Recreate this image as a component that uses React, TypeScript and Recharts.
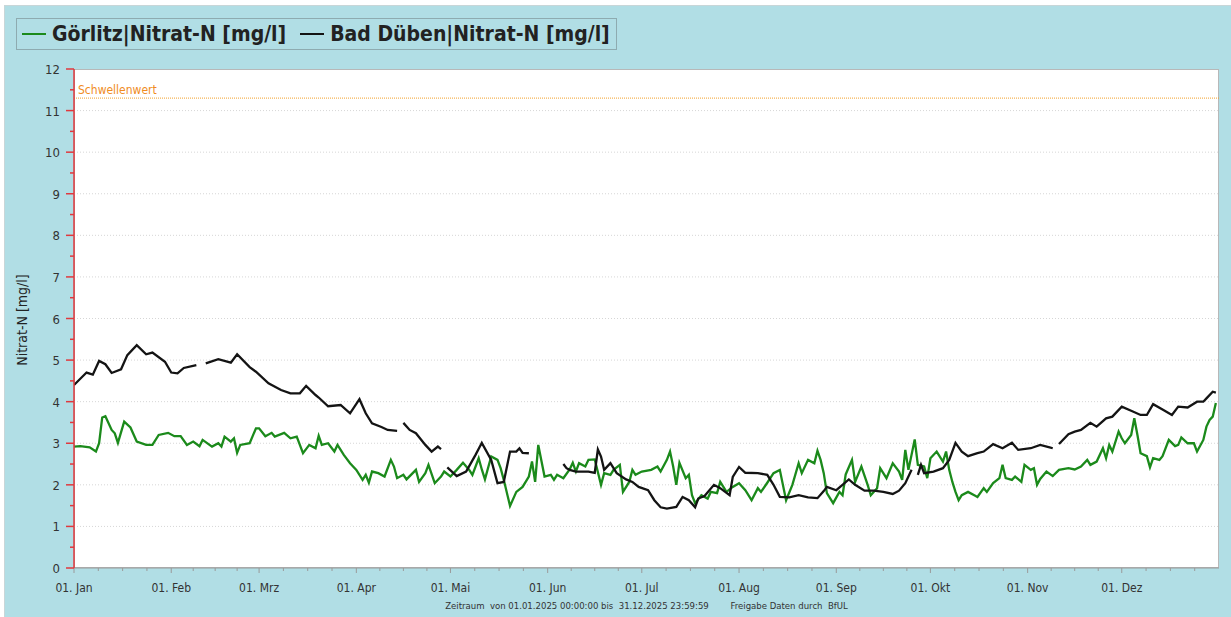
import { LineChart, Line, XAxis, YAxis, ReferenceLine } from 'recharts'

// day of year (0 = 01. Jan), value in mg/l; null = gap in the record
const goerlitz: [number, number | null][] = [
  [0, 2.92], [2, 2.93], [5, 2.9], [7, 2.8], [8, 3.0], [9, 3.62], [10, 3.65], [12, 3.32], [13, 3.24], [14, 3.01],
  [16, 3.52], [18, 3.38], [20, 3.04], [23, 2.96], [25, 2.96], [27, 3.2], [30, 3.25], [32, 3.17], [34, 3.17], [36, 2.96],
  [38, 3.04], [40, 2.93], [41, 3.08], [44, 2.92], [46, 3.0], [47, 2.92], [48, 3.16], [50, 3.04], [51, 3.12], [52, 2.77],
  [53, 2.96], [56, 3.0], [58, 3.36], [59, 3.36], [61, 3.17], [63, 3.25], [64, 3.16], [67, 3.25], [69, 3.12], [71, 3.16],
  [73, 2.76], [75, 2.96], [77, 2.88], [78, 3.18], [79, 2.96], [81, 3.0], [83, 2.8], [84, 2.96], [86, 2.72], [88, 2.52],
  [90, 2.36], [92, 2.12], [93, 2.24], [94, 2.05], [95, 2.32], [97, 2.28], [99, 2.2], [101, 2.6], [102, 2.44], [103, 2.16],
  [105, 2.24], [106, 2.13], [109, 2.36], [110, 2.07], [112, 2.28], [113, 2.48], [115, 2.04], [117, 2.2], [118, 2.32], [120, 2.2],
  [122, 2.36], [124, 2.53], [126, 2.36], [127, 2.24], [129, 2.64], [130, 2.37], [131, 2.13], [133, 2.68], [135, 2.6], [136, 2.4],
  [137, 2.12], [139, 1.49], [141, 1.83], [143, 1.95], [145, 2.2], [146, 2.56], [147, 2.07], [148, 2.96], [150, 2.2], [152, 2.24],
  [153, 2.12], [154, 2.24], [156, 2.16], [158, 2.37], [159, 2.53], [160, 2.32], [161, 2.52], [163, 2.44], [164, 2.6], [166, 2.61],
  [168, 2.0], [169, 2.28], [171, 2.24], [172, 2.36], [174, 2.48], [175, 1.83], [177, 2.07], [178, 2.36], [179, 2.24], [181, 2.32],
  [184, 2.36], [186, 2.44], [187, 2.32], [189, 2.6], [190, 2.8], [191, 2.44], [192, 2.0], [193, 2.53], [195, 2.16], [196, 2.24],
  [197, 1.75], [198, 1.56], [200, 1.75], [202, 1.67], [203, 1.83], [205, 1.8], [206, 2.07], [208, 1.83], [210, 1.95], [212, 2.04],
  [214, 1.87], [216, 1.63], [218, 1.92], [219, 1.83], [221, 2.05], [223, 2.28], [225, 2.36], [227, 1.63], [229, 2.0], [231, 2.52],
  [232, 2.28], [234, 2.6], [236, 2.52], [237, 2.82], [238, 2.6], [239, 2.28], [240, 1.8], [242, 1.56], [244, 1.83], [245, 1.75],
  [246, 2.25], [248, 2.6], [249, 2.07], [251, 2.44], [253, 2.0], [254, 1.75], [256, 1.92], [257, 2.4], [259, 2.16], [261, 2.52],
  [263, 2.32], [264, 2.12], [265, 2.84], [266, 2.36], [268, 3.09], [269, 2.48], [271, 2.44], [272, 2.16], [273, 2.64], [275, 2.8],
  [277, 2.56], [278, 2.8], [279, 2.36], [280, 2.07], [281, 1.83], [282, 1.63], [283, 1.75], [285, 1.83], [287, 1.75], [288, 1.71],
  [290, 1.92], [291, 1.83], [293, 2.04], [295, 2.16], [296, 2.48], [297, 2.16], [299, 2.12], [300, 2.2], [302, 2.07], [303, 2.48],
  [305, 2.36], [306, 2.4], [307, 2.0], [308, 2.14], [310, 2.32], [312, 2.21], [314, 2.36], [317, 2.4], [319, 2.37], [321, 2.44],
  [323, 2.6], [324, 2.48], [326, 2.56], [328, 2.88], [329, 2.64], [330, 2.96], [331, 2.8], [333, 3.28], [334, 3.12], [335, 3.0],
  [337, 3.2], [338, 3.6], [339, 3.2], [340, 2.76], [342, 2.69], [343, 2.42], [344, 2.64], [346, 2.6], [347, 2.69], [349, 3.08],
  [351, 2.93], [352, 2.96], [353, 3.14], [355, 3.0], [357, 3.0], [358, 2.8], [360, 3.08], [361, 3.4], [362, 3.56], [363, 3.64],
  [364, 3.97],
]

const badDueben: [number, number | null][] = [
  [0, 4.4], [4, 4.7], [6, 4.65], [8, 4.98], [10, 4.9], [12, 4.69], [15, 4.78], [17, 5.12], [20, 5.36], [23, 5.14],
  [25, 5.18], [29, 4.96], [31, 4.7], [33, 4.68], [35, 4.81], [39, 4.88], [40, null], [42, 4.92], [46, 5.02], [50, 4.94],
  [52, 5.14], [56, 4.83], [58, 4.72], [62, 4.44], [66, 4.28], [69, 4.2], [72, 4.2], [74, 4.38], [77, 4.16], [78, 4.1],
  [81, 3.89], [85, 3.92], [88, 3.72], [91, 4.06], [93, 3.72], [95, 3.48], [98, 3.39], [100, 3.32], [103, 3.3], [104, null],
  [105, 3.49], [107, 3.32], [109, 3.24], [112, 2.96], [114, 2.8], [116, 2.92], [117, 2.86], [118, null], [119, 2.42], [122, 2.21],
  [125, 2.32], [128, 2.72], [130, 3.01], [133, 2.6], [135, 2.04], [137, 2.07], [139, 2.8], [141, 2.8], [142, 2.88], [143, 2.77],
  [145, 2.76], [146, null], [156, 2.5], [157, 2.4], [158, 2.36], [160, 2.32], [164, 2.32], [166, 2.29], [167, 2.85], [168, 2.68],
  [169, 2.36], [171, 2.52], [173, 2.28], [176, 2.13], [178, 2.07], [180, 1.95], [183, 1.87], [185, 1.63], [187, 1.46], [189, 1.43],
  [192, 1.47], [194, 1.71], [196, 1.63], [198, 1.46], [199, 1.67], [201, 1.73], [204, 2.0], [206, 1.92], [209, 1.75], [210, 2.19],
  [212, 2.43], [214, 2.29], [218, 2.28], [221, 2.24], [223, 2.0], [225, 1.71], [228, 1.7], [231, 1.75], [234, 1.7], [237, 1.68],
  [239, 1.85], [240, 1.95], [243, 1.87], [247, 2.13], [249, 2.0], [252, 1.86], [255, 1.86], [258, 1.83], [261, 1.78], [263, 1.86],
  [265, 2.04], [267, 2.36], [268, null], [269, 2.24], [270, 2.48], [271, 2.28], [274, 2.32], [277, 2.4], [279, 2.6], [281, 3.01],
  [283, 2.8], [285, 2.69], [288, 2.76], [290, 2.8], [293, 2.98], [296, 2.88], [299, 3.01], [301, 2.84], [305, 2.88], [308, 2.96],
  [311, 2.9], [312, 2.88], [313, null], [314, 2.98], [317, 3.22], [319, 3.28], [321, 3.32], [324, 3.49], [326, 3.4], [329, 3.6],
  [331, 3.64], [334, 3.88], [337, 3.78], [340, 3.68], [342, 3.68], [344, 3.94], [347, 3.81], [350, 3.68], [352, 3.88], [355, 3.86],
  [358, 4.0], [360, 4.0], [361, 4.08], [363, 4.24], [364, 4.22],
]

const monthStarts = [0, 31, 59, 90, 120, 151, 181, 212, 243, 273, 304, 334]
const monthLabels = ['01. Jan', '01. Feb', '01. Mrz', '01. Apr', '01. Mai', '01. Jun', '01. Jul', '01. Aug', '01. Sep', '01. Okt', '01. Nov', '01. Dez']
const yearDays = 365
const yMajor = [0, 1, 2, 3, 4, 5, 6, 7, 8, 9, 10, 11, 12]
const threshold = 11.3

const GREEN = '#1b8a1b'
const BLACK = '#141414'
const RED = '#e0393e'
const BG = '#b1dee5'
const FONT = 'Tahoma, "DejaVu Sans Condensed", "DejaVu Sans", sans-serif'

const toRows = (pts: [number, number | null][]) => pts.map(([d, v]) => ({ d, v }))

// month starts plus three quarter-month minor ticks
const xTicks = monthStarts.flatMap((s, i) => {
  const e = i < monthStarts.length - 1 ? monthStarts[i + 1] : yearDays
  return [0, 1, 2, 3].map((k) => s + ((e - s) * k) / 4)
})
const yTicks = yMajor.flatMap((v) => (v < 12 ? [v, v + 0.5] : [v]))

function XTick(props: any) {
  const { x, y, payload } = props
  const i = monthStarts.indexOf(payload.value)
  const major = i >= 0
  return (
    <g>
      <line x1={x} x2={x} y1={y} y2={y + (major ? 5 : 3)} stroke="#9a9a9a" />
      {major && (
        <text x={x} y={y + 24} textAnchor="middle" fontSize={12} fill="#333" fontFamily={FONT}>
          {monthLabels[i]}
        </text>
      )}
    </g>
  )
}

function YTick(props: any) {
  const { x, y, payload } = props
  const major = Number.isInteger(payload.value)
  return (
    <g>
      <line x1={x - (major ? 8 : 4)} x2={x} y1={y} y2={y} stroke={RED} strokeWidth={1.5} />
      {major && (
        <text x={x - 14} y={y + 5} textAnchor="end" fontSize={13} fill="#333" fontFamily={FONT}>
          {payload.value}
        </text>
      )}
    </g>
  )
}

function LegendItem({ color, text, gap }: { color: string; text: string; gap: number }) {
  return (
    <span style={{ display: 'inline-flex', alignItems: 'center', marginRight: gap }}>
      <span style={{ display: 'inline-block', width: 24, height: 2, background: color, marginRight: 6 }} />
      <span>{text}</span>
    </span>
  )
}

export default function App() {
  return (
    <div style={{ position: 'relative', width: 1231, height: 617, background: '#fff', fontFamily: FONT }}>
      <style>{'body{margin:0}'}</style>
      <div style={{ position: 'absolute', left: 4, top: 5, right: 0, bottom: 0, background: BG, borderTop: '1px solid #c8d6d8', borderLeft: '1px solid #c8d6d8' }} />

      <div
        style={{
          position: 'absolute', left: 16, top: 18, width: 601, height: 32, boxSizing: 'border-box',
          border: '1px solid #8eabb0', display: 'flex', alignItems: 'center', paddingLeft: 5,
          fontSize: 21, fontWeight: 'bold', color: '#222', whiteSpace: 'nowrap',
        }}
      >
        <LegendItem color={GREEN} text="Görlitz|Nitrat-N [mg/l]" gap={14} />
        <LegendItem color={BLACK} text="Bad Düben|Nitrat-N [mg/l]" gap={0} />
      </div>

      <div style={{ position: 'absolute', left: 74, top: 69, width: 1145, height: 499, background: '#fff', border: '1px solid #b8b8b8', boxSizing: 'border-box' }} />

      <div
        style={{
          position: 'absolute', left: 22, top: 320, transform: 'translate(-50%, -50%) rotate(-90deg)',
          fontSize: 14, color: '#222', whiteSpace: 'nowrap',
        }}
      >
        Nitrat-N [mg/l]
      </div>

      <div style={{ position: 'absolute', left: 0, top: 0 }}>
        <LineChart width={1231} height={617} margin={{ top: 69, right: 12, bottom: 19, left: 34 }}>
          <XAxis
            dataKey="d"
            type="number"
            domain={[0, yearDays]}
            ticks={xTicks}
            interval={0}
            tick={<XTick />}
            tickSize={0}
            tickMargin={0}
            tickLine={false}
            axisLine={{ stroke: '#9a9a9a' }}
            height={30}
            allowDataOverflow
          />
          <YAxis
            type="number"
            domain={[0, 12]}
            ticks={yTicks}
            interval={0}
            tick={<YTick />}
            tickSize={0}
            tickMargin={0}
            tickLine={false}
            axisLine={{ stroke: RED, strokeWidth: 1.5 }}
            width={40}
          />
          {yMajor.slice(1, 12).map((v) => (
            <ReferenceLine key={v} y={v} stroke="#d6d6d6" strokeDasharray="1 2" />
          ))}
          <ReferenceLine
            y={threshold}
            stroke="#f2a02a"
            strokeDasharray="1 1"
            label={{ value: 'Schwellenwert', position: 'insideBottomLeft', offset: 4, fill: '#f08c1e', fontSize: 12, fontFamily: FONT }}
          />
          <Line data={toRows(goerlitz)} dataKey="v" stroke={GREEN} strokeWidth={2.3} dot={false} isAnimationActive={false} connectNulls={false} />
          <Line data={toRows(badDueben)} dataKey="v" stroke={BLACK} strokeWidth={2.3} dot={false} isAnimationActive={false} connectNulls={false} />
        </LineChart>
      </div>

      <div
        style={{
          position: 'absolute', left: 0, width: 1231, top: 600, textAlign: 'center', fontSize: 9.5,
          color: '#333', whiteSpace: 'pre', paddingLeft: 62, boxSizing: 'border-box',
        }}
      >
        {'Zeitraum  von 01.01.2025 00:00:00 bis  31.12.2025 23:59:59        Freigabe Daten durch  BfUL'}
      </div>
    </div>
  )
}
